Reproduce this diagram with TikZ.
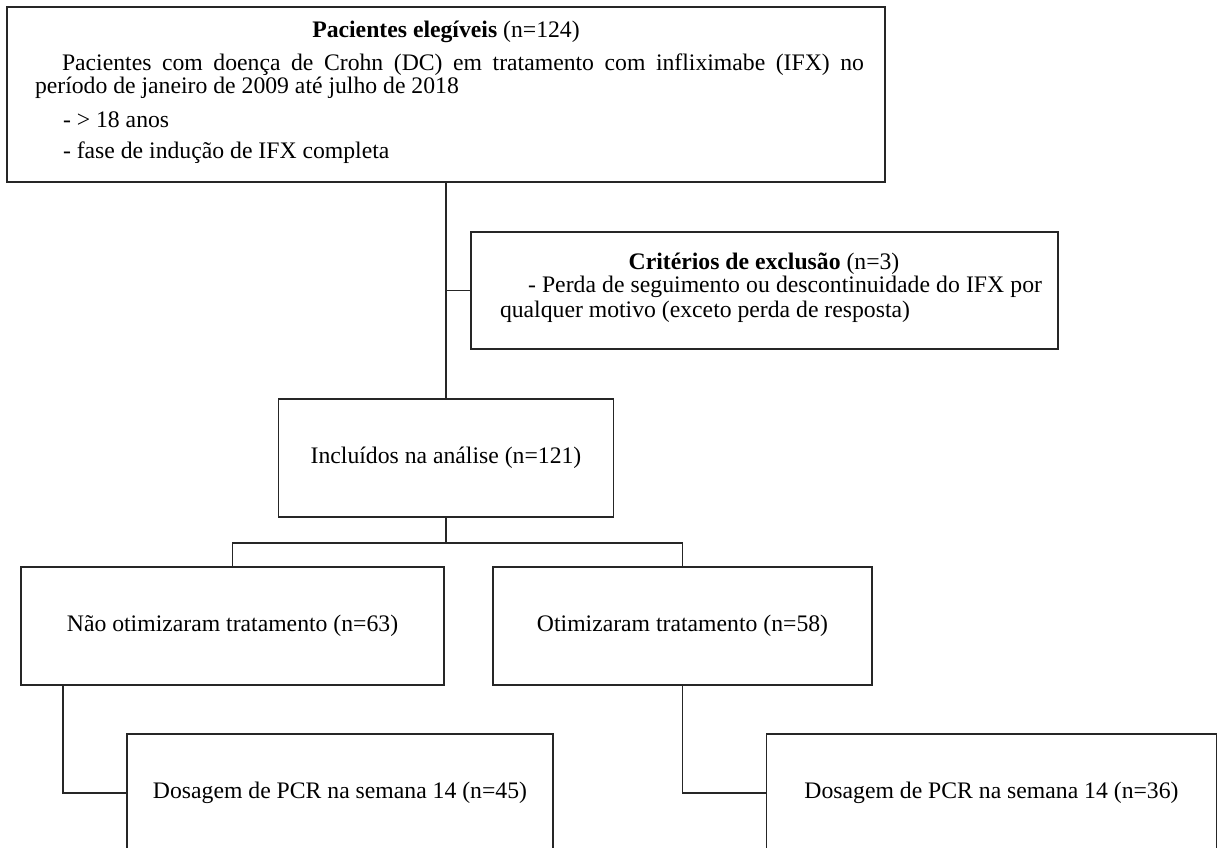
\documentclass[tikz,border=0pt]{standalone}
\usepackage{fontspec}
\setmainfont{Liberation Serif}
\begin{document}
\begin{tikzpicture}[x=1pt,y=-1pt,
  every node/.style={font=\fontsize{23.7}{26}\selectfont},
  box/.style={draw=black!85, line width=1.8pt, inner sep=0pt, outer sep=0pt, fill=white},
  txt/.style={inner sep=0pt, outer sep=0pt},
  conn/.style={draw=black!85, line width=1.6pt}]
\useasboundingbox (0,0) rectangle (1218,848);
\clip (0,0) rectangle (1218,848);
\fill[white] (0,0) rectangle (1218,848);

% boxes
\node[box, minimum width=878pt, minimum height=175pt] (top) at (446,94.5) {};
\node[box, minimum width=587pt, minimum height=117pt] (excl) at (764.5,290.5) {};
\node[box, minimum width=335pt, minimum height=118pt] (incl) at (446,458) {Incluídos na análise (n=121)};
\node[box, minimum width=423pt, minimum height=118pt] (left) at (232.5,626) {Não otimizaram tratamento (n=63)};
\node[box, minimum width=379pt, minimum height=118pt] (right) at (682.5,626) {Otimizaram tratamento (n=58)};
\node[box, minimum width=426pt, minimum height=118pt] (bl) at (340,793) {Dosagem de PCR na semana 14 (n=45)};
\node[box, minimum width=450pt, minimum height=118pt] (br) at (991.5,793) {Dosagem de PCR na semana 14 (n=36)};

% top box text
\node[txt, anchor=base] (t0) at (446,38) {\textbf{Pacientes elegíveis} (n=124)};
\node[txt, anchor=base west] (t1) at (35,71) {\parbox[t]{829pt}{\fontsize{23.7}{21}\selectfont\hspace*{27pt}Pacientes com doença de Crohn (DC) em tratamento com infliximabe (IFX) no\linebreak período de janeiro de 2009 até julho de 2018}};
\node[txt, anchor=base west] (t3) at (63,128) {- > 18 anos};
\node[txt, anchor=base west] (t4) at (63,158) {- fase de indução de IFX completa};

% exclusion box text
\node[txt, anchor=base] (e0) at (764,269) {\textbf{Critérios de exclusão} (n=3)};
\node[txt, anchor=base west] (e1) at (500,292) {\parbox[t]{542pt}{\fontsize{23.7}{25}\selectfont\hspace*{28pt}- Perda de seguimento ou descontinuidade do IFX por\linebreak qualquer motivo (exceto perda de resposta)}};

% connectors
\coordinate (j1) at (446,290.5);
\draw[conn] (top.south) -- (incl.north);
\draw[conn] (j1) -- (excl.west);
\draw[conn] (incl.south) -- ++(0,26) coordinate (j2);
\draw[conn] (left.north) |- (j2) -| (right.north);
\coordinate (lb) at (63,685);
\draw[conn] (lb) |- (bl.west);
\draw[conn] (right.south) |- (br.west);
\end{tikzpicture}
\end{document}
